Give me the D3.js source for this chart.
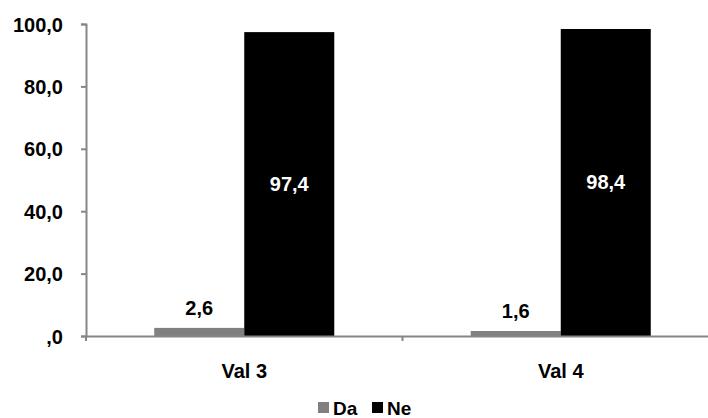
<!DOCTYPE html>
<html>
<head>
<meta charset="utf-8">
<script src="https://cdn.jsdelivr.net/npm/d3@7"></script>
<style>
  body { margin: 0; background: #fff; }
  text { font-family: "Liberation Sans", Arial, sans-serif; font-weight: bold; }
</style>
</head>
<body>
<div id="chart"></div>
<script>
const categories = ['Val 3', 'Val 4'];
const seriesNames = ['Da', 'Ne'];
const daValues = [2.6, 1.6];
const neValues = [97.4, 98.4];
const yTicks = [0, 20, 40, 60, 80, 100];

const width = 708, height = 418;
const margin = {top: 24, right: -11, bottom: 82, left: 86};

const colors = {Da: '#808080', Ne: '#000000'};
const fmt = v => d3.format('.1f')(v).replace('.', ',').replace(/^0,/, ',');

const svg = d3.select('#chart').append('svg')
  .attr('width', width)
  .attr('height', height);

const x0 = d3.scaleBand()
  .domain(categories)
  .range([margin.left, width - margin.right])
  .paddingInner(0)
  .paddingOuter(0);

const x1 = d3.scaleBand()
  .domain(seriesNames)
  .range([0, x0.bandwidth()])
  .paddingInner(0)
  .paddingOuter(0.758);

const y = d3.scaleLinear()
  .domain([0, 100])
  .range([height - margin.bottom, margin.top]);

const rows = categories.map((c, i) => ({cat: c, Da: daValues[i], Ne: neValues[i]}));

// y axis
const yAxis = svg.append('g')
  .attr('transform', `translate(${margin.left},0)`)
  .call(d3.axisLeft(y).tickValues(yTicks).tickSize(5).tickPadding(18).tickFormat(fmt));
yAxis.select('.domain').attr('stroke', '#868686').attr('stroke-width', 2);
yAxis.selectAll('.tick line').attr('stroke', '#868686').attr('stroke-width', 2);
yAxis.selectAll('.tick text').attr('font-size', 20).attr('fill', '#000').attr('dy', '0.35em');

// bars
const groups = svg.selectAll('.cat')
  .data(rows)
  .enter().append('g')
    .attr('class', 'cat')
    .attr('transform', d => `translate(${x0(d.cat)},0)`);

groups.selectAll('rect')
  .data(d => seriesNames.map(s => ({key: s, value: d[s]})))
  .enter().append('rect')
    .attr('x', d => x1(d.key))
    .attr('y', d => y(d.value))
    .attr('width', x1.bandwidth())
    .attr('height', d => y(0) - y(d.value))
    .attr('fill', d => colors[d.key]);

groups.selectAll('.lbl')
  .data(d => seriesNames.map(s => ({key: s, value: d[s]})))
  .enter().append('text')
    .attr('class', 'lbl')
    .attr('x', d => x1(d.key) + x1.bandwidth() / 2)
    .attr('y', d => d.key === 'Ne' ? (y(d.value) + y(0)) / 2 : y(d.value) - 13)
    .attr('dy', d => d.key === 'Ne' ? '0.35em' : 0)
    .attr('text-anchor', 'middle')
    .attr('font-size', 20)
    .attr('fill', d => d.key === 'Ne' ? '#fff' : '#000')
    .text(d => fmt(d.value));

// x axis
const xAxis = svg.append('g')
  .attr('transform', `translate(0,${y(0)})`)
  .call(d3.axisBottom(x0).tickSize(0).tickPadding(28));
xAxis.select('.domain').attr('stroke', '#868686').attr('stroke-width', 2);
xAxis.selectAll('.tick text').attr('font-size', 20).attr('fill', '#000');

// tick marks between categories
xAxis.selectAll('.sep')
  .data(categories)
  .enter().append('line')
    .attr('class', 'sep')
    .attr('x1', d => x0(d)).attr('x2', d => x0(d))
    .attr('y1', 0).attr('y2', 5)
    .attr('stroke', '#868686').attr('stroke-width', 2);

// legend
const legend = svg.append('g').attr('transform', 'translate(318,401)');
const items = legend.selectAll('.item')
  .data(seriesNames)
  .enter().append('g')
    .attr('class', 'item')
    .attr('transform', (d, i) => `translate(${i * 54},0)`);
items.append('rect')
  .attr('y', 1)
  .attr('width', 11).attr('height', 11)
  .attr('fill', d => colors[d]);
items.append('text')
  .attr('x', 15).attr('y', 14)
  .attr('font-size', 19)
  .attr('fill', '#000')
  .text(d => d);
</script>
</body>
</html>
